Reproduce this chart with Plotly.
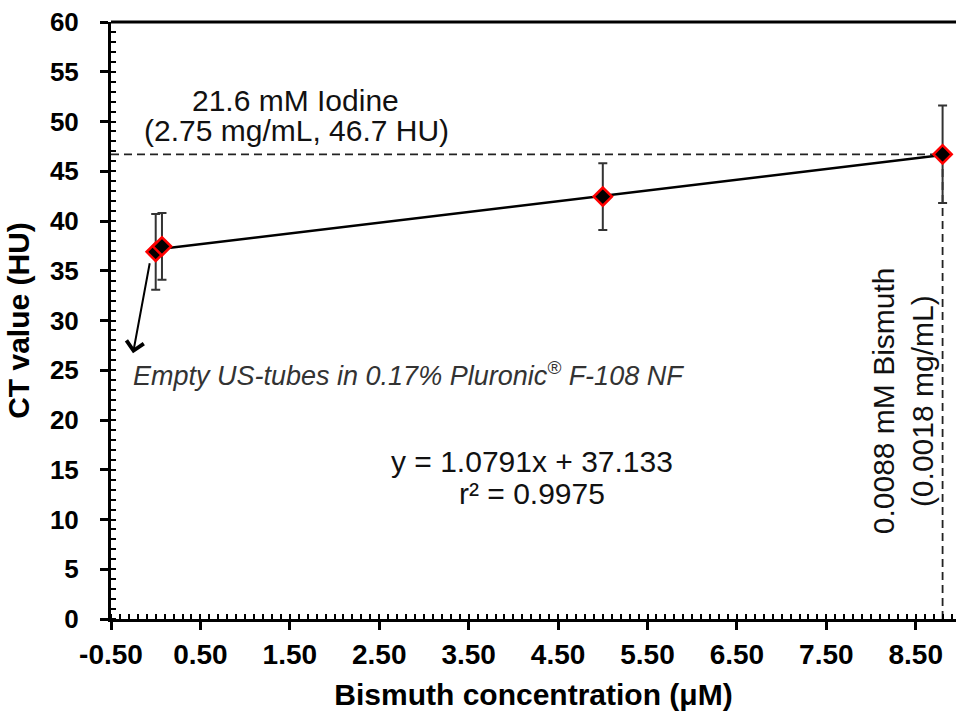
import plotly.graph_objects as go

# ---- data ----
bismuth_uM = [0.0, 0.07, 5.0, 8.8]
ct_hu = [36.9, 37.45, 42.45, 46.7]
ct_err = [3.8, 3.35, 3.35, 4.9]

fit_slope = 1.0791
fit_intercept = 37.133
fit_r2 = 0.9975

iodine_ref_hu = 46.7
bismuth_equiv_uM = 8.8

x_tick_vals = [-0.5, 0.5, 1.5, 2.5, 3.5, 4.5, 5.5, 6.5, 7.5, 8.5]
x_tick_labels = ["-0.50", "0.50", "1.50", "2.50", "3.50", "4.50", "5.50", "6.50", "7.50", "8.50"]
y_tick_vals = [0, 5, 10, 15, 20, 25, 30, 35, 40, 45, 50, 55, 60]

FONT = "Liberation Sans, Arial, sans-serif"

fit_x = [min(bismuth_uM), max(bismuth_uM)]
fit_y = [fit_slope * v + fit_intercept for v in fit_x]

fig = go.Figure()

# trendline
fig.add_trace(go.Scatter(
    x=fit_x, y=fit_y, mode="lines",
    line=dict(color="black", width=2.5),
    hoverinfo="skip", showlegend=False,
))

# data points with error bars
fig.add_trace(go.Scatter(
    x=bismuth_uM, y=ct_hu, mode="markers",
    marker=dict(symbol="diamond", size=14, color="black",
                line=dict(color="#ff0000", width=2.5)),
    error_y=dict(type="data", array=ct_err, visible=True,
                 color="#333333", thickness=2, width=4.5),
    cliponaxis=False,
    showlegend=False,
))

# reference dashed lines
fig.add_shape(type="line", xref="x", yref="y",
              x0=-0.5, x1=bismuth_equiv_uM, y0=iodine_ref_hu, y1=iodine_ref_hu,
              line=dict(color="#222222", width=1.8, dash="8px,5px"), layer="below")
fig.add_shape(type="line", xref="x", yref="y",
              x0=bismuth_equiv_uM, x1=bismuth_equiv_uM, y0=0, y1=iodine_ref_hu,
              line=dict(color="#222222", width=1.8, dash="8px,5px"), layer="below")
# top border line
fig.add_shape(type="line", xref="x domain", yref="y domain",
              x0=0, x1=1, y0=1, y1=1,
              line=dict(color="black", width=3), layer="above")

ann_font = dict(family=FONT, size=30, color="#111111")

annotations = [
    dict(x=1.56, y=52.1, text="21.6 mM Iodine", showarrow=False, font=ann_font,
         xanchor="center", yanchor="middle"),
    dict(x=1.58, y=49.1, text="(2.75 mg/mL, 46.7 HU)", showarrow=False, font=ann_font,
         xanchor="center", yanchor="middle"),
    dict(x=4.21, y=15.8, text="y = 1.0791x + 37.133", showarrow=False, font=ann_font,
         xanchor="center", yanchor="middle"),
    dict(x=4.21, y=12.6, text=f"r² = {fit_r2}", showarrow=False, font=ann_font,
         xanchor="center", yanchor="middle"),
    dict(x=-0.276, y=24.6,
         text="<i>Empty US-tubes in 0.17% Pluronic<sup>®</sup> F-108 NF</i>",
         showarrow=False, font=dict(family=FONT, size=27, color="#333333"),
         xanchor="left", yanchor="middle"),
    dict(x=8.135, y=21.9, text="0.0088 mM Bismuth", showarrow=False, font=ann_font,
         textangle=-90, xanchor="center", yanchor="middle"),
    dict(x=8.57, y=21.9, text="(0.0018 mg/mL)", showarrow=False, font=ann_font,
         textangle=-90, xanchor="center", yanchor="middle"),
    # arrow
    dict(x=-0.254, y=26.7, ax=-0.064, ay=35.9, axref="x", ayref="y",
         xref="x", yref="y", text="", showarrow=True,
         arrowhead=4, arrowsize=1.7, arrowwidth=2, arrowcolor="black"),
]

fig.update_layout(
    width=956, height=711,
    margin=dict(l=111, r=0, t=22, b=92, autoexpand=False),
    paper_bgcolor="white", plot_bgcolor="white",
    font=dict(family=FONT, color="black"),
    annotations=annotations,
    showlegend=False,
)

fig.update_xaxes(
    range=[-0.5, 8.95], showgrid=False, zeroline=False,
    showline=True, linecolor="black", linewidth=3,
    tickmode="array", tickvals=x_tick_vals, ticktext=x_tick_labels,
    ticks="outside", ticklen=8, tickwidth=2.5, tickcolor="black",
    ticklabelstandoff=0, ticklabeloverflow="allow",
    tickfont=dict(family=FONT, size=28, color="black", weight="bold"),
    minor=dict(tickmode="linear", tick0=-0.5, dtick=0.1, ticks="inside",
               ticklen=5, tickwidth=2, tickcolor="black", showgrid=False),
    title=dict(text="<b>Bismuth concentration (μM)</b>",
               font=dict(family=FONT, size=30, color="black"), standoff=16),
)

fig.update_yaxes(
    range=[0, 60], showgrid=False, zeroline=False,
    showline=True, linecolor="black", linewidth=3,
    tickmode="array", tickvals=y_tick_vals,
    ticks="outside", ticklen=8, tickwidth=2.5, tickcolor="black",
    ticklabelstandoff=16, ticklabeloverflow="allow",
    tickfont=dict(family=FONT, size=26, color="black", weight="bold"),
    minor=dict(tickmode="linear", tick0=0, dtick=1, ticks="inside",
               ticklen=5, tickwidth=2, tickcolor="black", showgrid=False),
    title=dict(text="<b>CT value (HU)</b>",
               font=dict(family=FONT, size=30, color="black"), standoff=12),
)

fig.write_html(
    "out.html",
    config={"displayModeBar": False},
    post_script="document.body.style.margin='0';document.body.style.overflow='hidden';",
)
